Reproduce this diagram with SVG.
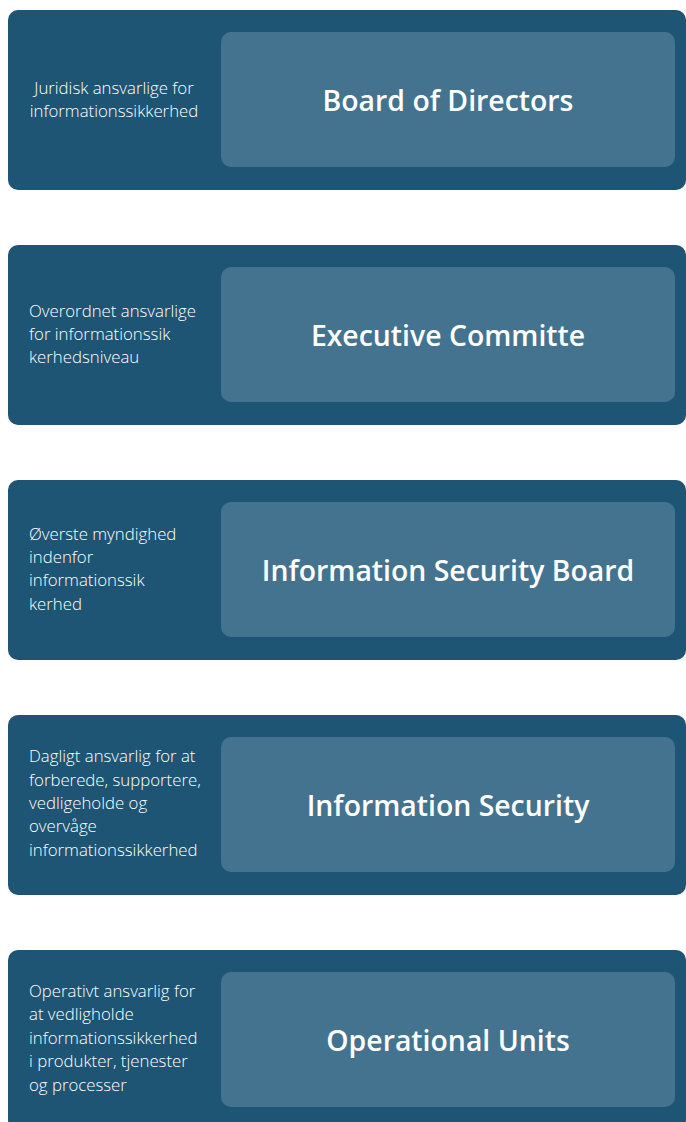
<svg xmlns="http://www.w3.org/2000/svg" width="686" height="1122" viewBox="0 0 686 1122">
<style>
.outer{fill:#1f5574}
.inner{fill:#44738f}
.desc{font-family:"Open Sans","Liberation Sans",sans-serif;font-weight:300;font-size:16.8px;fill:#ffffff}
.title{font-family:"Open Sans","Liberation Sans",sans-serif;font-weight:600;font-size:28.4px;fill:#ffffff;text-anchor:middle}
</style>
<rect width="686" height="1122" fill="#ffffff"/>
<g id="node-board">
<rect class="outer" x="8" y="10" width="678" height="180" rx="10"/>
<rect class="inner" x="221" y="32" width="454" height="135" rx="10"/>
<text class="desc" text-anchor="middle"><tspan x="114" y="94">Juridisk ansvarlige for</tspan><tspan x="114" y="117">informationssikkerhed</tspan></text>
<text class="title" x="448" y="111">Board of Directors</text>
</g>
<g id="node-executive">
<rect class="outer" x="8" y="245" width="678" height="180" rx="10"/>
<rect class="inner" x="221" y="267" width="454" height="135" rx="10"/>
<text class="desc"><tspan x="29" y="317">Overordnet ansvarlige</tspan><tspan x="29" y="340">for informationssik</tspan><tspan x="29" y="363">kerhedsniveau</tspan></text>
<text class="title" x="448" y="346">Executive Committe</text>
</g>
<g id="node-isb">
<rect class="outer" x="8" y="480" width="678" height="180" rx="10"/>
<rect class="inner" x="221" y="502" width="454" height="135" rx="10"/>
<text class="desc"><tspan x="29" y="540">Øverste myndighed</tspan><tspan x="29" y="563">indenfor</tspan><tspan x="29" y="586">informationssik</tspan><tspan x="29" y="610">kerhed</tspan></text>
<text class="title" x="448" y="581">Information Security Board</text>
</g>
<g id="node-is">
<rect class="outer" x="8" y="715" width="678" height="180" rx="10"/>
<rect class="inner" x="221" y="737" width="454" height="135" rx="10"/>
<text class="desc"><tspan x="29" y="762">Dagligt ansvarlig for at</tspan><tspan x="29" y="786">forberede, supportere,</tspan><tspan x="29" y="809">vedligeholde og</tspan><tspan x="29" y="832">overvåge</tspan><tspan x="29" y="856">informationssikkerhed</tspan></text>
<text class="title" x="448" y="816">Information Security</text>
</g>
<g id="node-ou">
<rect class="outer" x="8" y="950" width="678" height="180" rx="10"/>
<rect class="inner" x="221" y="972" width="454" height="135" rx="10"/>
<text class="desc"><tspan x="29" y="997">Operativt ansvarlig for</tspan><tspan x="29" y="1020">at vedligholde</tspan><tspan x="29" y="1044">informationssikkerhed</tspan><tspan x="29" y="1067">i produkter, tjenester</tspan><tspan x="29" y="1091">og processer</tspan></text>
<text class="title" x="448" y="1051">Operational Units</text>
</g>
<g id="connectors"/>
</svg>
